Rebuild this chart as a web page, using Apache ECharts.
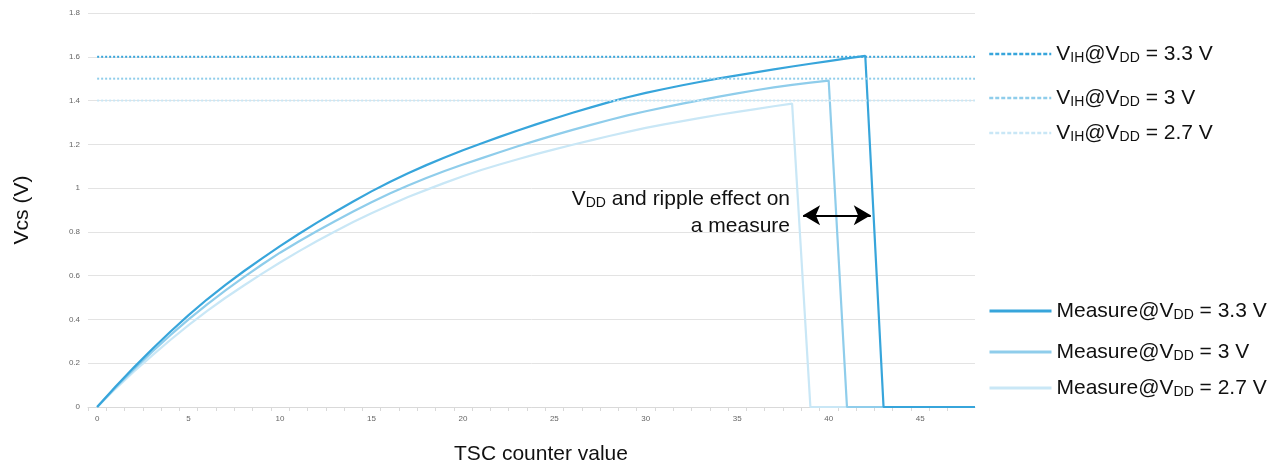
<!DOCTYPE html>
<html>
<head>
<meta charset="utf-8">
<script src="https://cdn.jsdelivr.net/npm/echarts@6/dist/echarts.min.js"></script>
<style>
  html, body { margin: 0; padding: 0; background: #fff; }
  #chart { width: 1285px; height: 465px; }
</style>
</head>
<body>
<div id="chart"></div>
<script>
// TSC counter values (x) for every sample
const counterValues = [0,1,2,3,4,5,6,7,8,9,10,11,12,13,14,15,16,17,18,19,20,21,22,23,24,
  25,26,27,28,29,30,31,32,33,34,35,36,37,38,39,40,41,42,43,44,45,46,47,48];

// Measured sensing-capacitor voltage (V) at each counter value
const measure33 = [0,0.092,0.18,0.264,0.344,0.42,0.491,0.557,0.619,0.678,0.735,0.789,0.841,0.891,
  0.939,0.985,1.028,1.068,1.105,1.14,1.173,1.204,1.234,1.263,1.291,1.318,1.344,1.369,1.393,1.415,
  1.435,1.453,1.47,1.486,1.501,1.515,1.529,1.5425,1.5555,1.568,1.5805,1.5925,1.6045,0,0,0,0,0,0];
const measure30 = [0,0.088,0.172,0.252,0.328,0.4,0.468,0.532,0.592,0.65,0.705,0.755,0.803,0.849,
  0.893,0.935,0.975,1.012,1.046,1.078,1.108,1.136,1.164,1.191,1.217,1.242,1.266,1.289,1.311,1.332,
  1.351,1.369,1.386,1.402,1.418,1.433,1.447,1.46,1.472,1.482,1.491,0,0,0,0,0,0,0,0];
const measure27 = [0,0.083,0.161,0.235,0.306,0.374,0.438,0.498,0.554,0.608,0.66,0.71,0.757,0.802,
  0.845,0.885,0.923,0.959,0.992,1.024,1.054,1.083,1.108,1.132,1.155,1.177,1.198,1.218,1.238,1.257,
  1.275,1.291,1.306,1.321,1.335,1.348,1.361,1.374,1.386,0,0,0,0,0,0,0,0,0,0];

// V_IH thresholds (V) for each supply voltage
const vih = { v33: 1.6, v30: 1.5, v27: 1.4 };
const vihSpan = [0, 48];

// Axis tick labels
const xTickLabels = [0, 5, 10, 15, 20, 25, 30, 35, 40, 45];
const xTickMarks = counterValues.slice(0, 48).map(v => v - 0.5);

// Double arrow spanning the spread of the measures
const arrowSpan = [[38.6, 0.876], [42.3, 0.876]];

const C_DARK = '#37a5db';
const C_MID = '#8fcdeb';
const C_LIGHT = '#c9e7f6';

const pair = (xs, ys) => xs.map((x, i) => [x, ys[i]]);

const names = {
  m33: 'Measure@VDD = 3.3 V', m30: 'Measure@VDD = 3 V', m27: 'Measure@VDD = 2.7 V',
  h33: 'VIH@VDD = 3.3 V', h30: 'VIH@VDD = 3 V', h27: 'VIH@VDD = 2.7 V'
};
const richNames = {
  [names.m33]: '{b|Measure@V}{s|DD}{b| = 3.3 V}',
  [names.m30]: '{b|Measure@V}{s|DD}{b| = 3 V}',
  [names.m27]: '{b|Measure@V}{s|DD}{b| = 2.7 V}',
  [names.h33]: '{b|V}{s|IH}{b|@V}{s|DD}{b| = 3.3 V}',
  [names.h30]: '{b|V}{s|IH}{b|@V}{s|DD}{b| = 3 V}',
  [names.h27]: '{b|V}{s|IH}{b|@V}{s|DD}{b| = 2.7 V}'
};

const FONT = '"Liberation Sans", Arial, sans-serif';
const FS = 21, FS_SUB = 14;
const rich = {
  b: { fontSize: FS, fontFamily: FONT, color: '#111', lineHeight: 22, verticalAlign: 'bottom' },
  s: { fontSize: FS_SUB, fontFamily: FONT, color: '#111', lineHeight: 22, verticalAlign: 'bottom' }
};

function legendAt(name, top, dotted) {
  return {
    data: [name], left: 988, top: top, padding: 0,
    itemWidth: 62, itemHeight: 14, selectedMode: false,
    formatter: n => richNames[n],
    textStyle: { rich: rich },
    itemStyle: { opacity: 0 },
    lineStyle: dotted ? { type: [4, 2], width: 2.5 } : { width: 3 }
  };
}

function measureSeries(name, ys, color, extra) {
  return Object.assign({
    name: name, type: 'line', data: pair(counterValues, ys),
    symbol: 'none', smooth: false,
    lineStyle: { color: color, width: 2.2 }, itemStyle: { color: color }
  }, extra || {});
}

function vihSeries(name, level, color) {
  return {
    name: name, type: 'line', data: vihSpan.map(x => [x, level]),
    symbol: 'none', z: 3,
    lineStyle: { color: color, width: 2, type: [2, 2] }, itemStyle: { color: color }
  };
}

const chart = echarts.init(document.getElementById('chart'), null, { renderer: 'canvas' });
chart.setOption({
  animation: false,
  backgroundColor: '#fff',
  grid: { left: 88, right: 310, top: 13, bottom: 58, containLabel: false, outerBoundsMode: 'none' },
  xAxis: {
    type: 'value', min: -0.5, max: 48,
    name: 'TSC counter value', nameLocation: 'middle', nameGap: 37,
    nameTextStyle: { fontSize: FS, fontFamily: FONT, color: '#111', padding: [0, 0, 0, 19] },
    splitLine: { show: false },
    axisLine: { lineStyle: { color: '#d9d9d9', width: 1 } },
    axisTick: { customValues: xTickMarks, length: 4, lineStyle: { color: '#d9d9d9' } },
    axisLabel: { customValues: xTickLabels, fontSize: 8, color: '#666', margin: 8 }
  },
  yAxis: {
    type: 'value', min: 0, max: 1.8, interval: 0.2,
    name: 'Vcs (V)', nameLocation: 'middle', nameGap: 55,
    nameTextStyle: { fontSize: FS, fontFamily: FONT, color: '#111' },
    axisLine: { show: false }, axisTick: { show: false },
    splitLine: { lineStyle: { color: '#e3e3e3', width: 1 } },
    axisLabel: { fontSize: 8, color: '#666', margin: 8 }
  },
  legend: [
    legendAt(names.h33, 44, true),
    legendAt(names.h30, 88, true),
    legendAt(names.h27, 123, true),
    legendAt(names.m33, 301, false),
    legendAt(names.m30, 342, false),
    legendAt(names.m27, 378, false)
  ],
  series: [
    measureSeries(names.m27, measure27, C_LIGHT),
    measureSeries(names.m30, measure30, C_MID),
    measureSeries(names.m33, measure33, C_DARK, {
      markLine: {
        silent: true, symbol: ['arrow', 'arrow'], symbolSize: [15, 17],
        label: { show: false },
        lineStyle: { color: '#000', width: 2, type: 'solid' },
        data: [[{ coord: arrowSpan[0] }, { coord: arrowSpan[1] }]]
      }
    }),
    vihSeries(names.h33, vih.v33, C_DARK),
    vihSeries(names.h30, vih.v30, C_MID),
    vihSeries(names.h27, vih.v27, C_LIGHT)
  ],
  graphic: [{
    type: 'text', x: 790, y: 210,
    style: {
      text: '{b|V}{s|DD}{b| and ripple effect on}\n{b|a measure}',
      align: 'right', verticalAlign: 'middle',
      rich: {
        b: { fontSize: FS, fontFamily: FONT, fill: '#111', lineHeight: 27, verticalAlign: 'bottom' },
        s: { fontSize: FS_SUB, fontFamily: FONT, fill: '#111', lineHeight: 27, verticalAlign: 'bottom' }
      }
    }
  }]
});
</script>
</body>
</html>
